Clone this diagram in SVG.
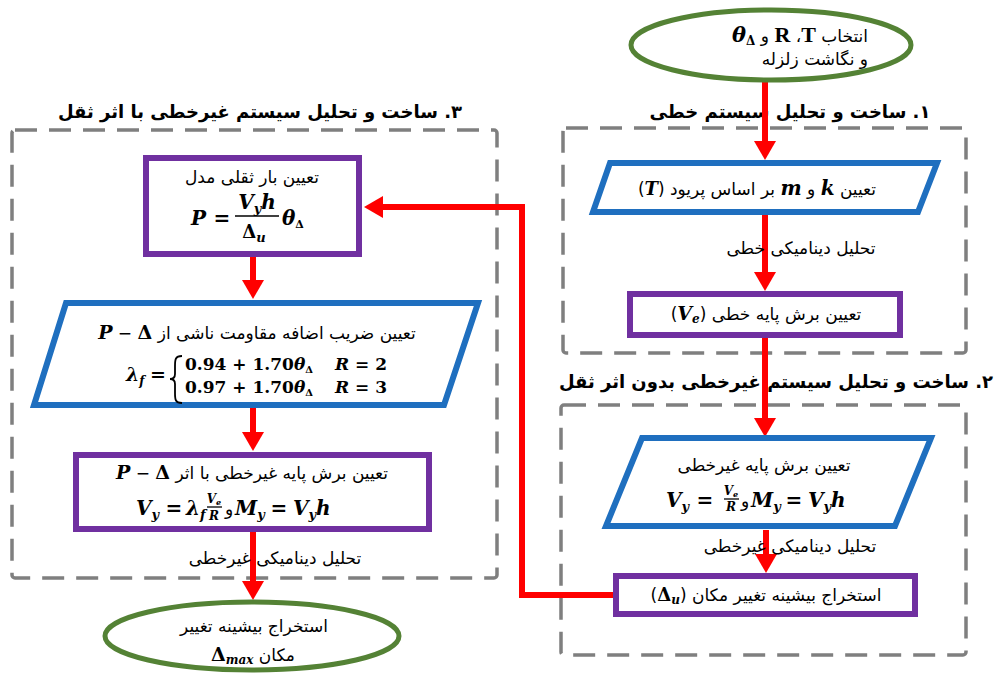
<svg xmlns="http://www.w3.org/2000/svg" width="998" height="679" viewBox="0 0 998 679">
<style>
.fa{font-family:"DejaVu Sans",sans-serif;direction:rtl;fill:#000;font-size:17px}
.h{font-family:"DejaVu Sans",sans-serif;direction:rtl;font-weight:bold;font-size:18px;fill:#000}
.m{font-family:"DejaVu Serif",serif;font-weight:bold;font-style:italic;fill:#000}
.u{font-family:"DejaVu Serif",serif;font-weight:bold;font-style:normal;fill:#000}
.t{font-family:"Liberation Serif",serif;font-weight:bold;font-style:normal}
.dash{fill:none;stroke:#7F7F7F;stroke-width:3.5;stroke-dasharray:22 12}
.ell{fill:#fff;stroke:#548235;stroke-width:5}
.par{fill:#fff;stroke:#1F6FBF;stroke-width:6}
.box{fill:#fff;stroke:#7030A0;stroke-width:6}
.con{fill:none;stroke:#FF0000;stroke-width:6;marker-end:url(#ah)}
.bar{stroke:#000;stroke-width:1.3}
</style>
<defs>
<marker id="ah" markerUnits="userSpaceOnUse" markerWidth="20" markerHeight="24" refX="0" refY="12" orient="auto" overflow="visible">
<path d="M0,1 L19,12 L0,23 z" fill="#FF0000"/>
</marker>
</defs>
<rect width="998" height="679" fill="#fff"/>

<g id="frames">
<rect class="dash" x="563" y="128" width="403" height="225" rx="3"/>
<rect class="dash" x="561" y="405" width="405" height="250" rx="3"/>
<rect class="dash" x="12" y="130" width="485" height="448" rx="3"/>
</g>

<g id="headings">
<text class="h" x="790" y="118" text-anchor="middle">۱. ساخت و تحلیل سیستم خطی</text>
<text class="h" x="776" y="388" text-anchor="middle">۲. ساخت و تحلیل سیستم غیرخطی بدون اثر ثقل</text>
<text class="h" x="260" y="118" text-anchor="middle">۳. ساخت و تحلیل سیستم غیرخطی با اثر ثقل</text>
</g>

<g id="connectors">
<path class="con" d="M765,82 V141"/>
<path class="con" d="M765,215 V272"/>
<path class="con" d="M765,338 V418"/>
<path class="con" d="M766,530 V554"/>
<path class="con" d="M613,595 H522 V207 H383"/>
<path class="con" d="M253,257 V280"/>
<path class="con" d="M253,408 V432"/>
<path class="con" d="M253,532 V581"/>
</g>

<g id="start">
<ellipse class="ell" cx="771" cy="45" rx="140" ry="35"/>
<text class="fa" x="868" y="42" text-anchor="start">انتخاب <tspan class="t" font-size="22">T</tspan>&#x200F;، <tspan class="t" font-size="22">R</tspan> و <tspan class="m" font-size="21">θ</tspan><tspan class="u" font-size="12" baseline-shift="-3">Δ</tspan></text>
<text class="fa" x="868" y="65" text-anchor="start">و نگاشت زلزله</text>
</g>

<g id="linear-km">
<polygon class="par" points="610,163 937,163 918,212 593,212"/>
<text class="fa" x="757" y="195" text-anchor="middle">تعیین <tspan class="m" font-size="20">k</tspan> و <tspan class="m" font-size="20">m</tspan> بر اساس پریود (<tspan class="m" font-size="18">T</tspan>)</text>
</g>

<g id="label-linear">
<text class="fa" x="801" y="254" text-anchor="middle">تحلیل دینامیکی خطی</text>
</g>

<g id="linear-ve">
<rect class="box" x="630" y="294" width="270" height="41"/>
<text class="fa" x="766" y="320" text-anchor="middle">تعیین برش پایه خطی (<tspan class="m" font-size="19">V</tspan><tspan class="m" font-size="12" baseline-shift="-3">e</tspan>)</text>
</g>

<g id="nonlinear-vy">
<polygon class="par" points="642,438 931,438 895,526 606,526"/>
<text class="fa" x="764" y="471" text-anchor="middle">تعیین برش پایه غیرخطی</text>
<text class="m" x="666" y="507" font-size="20">V<tspan font-size="13" baseline-shift="-4">y</tspan></text>
<text class="u" x="705" y="507" font-size="20" text-anchor="middle">=</text>
<text class="m" x="731" y="495" font-size="12" text-anchor="middle">V<tspan font-size="8" baseline-shift="-2">e</tspan></text>
<line class="bar" x1="724" y1="499" x2="739" y2="499"/>
<text class="m" x="731" y="511" font-size="12" text-anchor="middle">R</text>
<text class="fa" x="745" y="507" text-anchor="middle" font-size="16">و</text>
<text class="m" x="751" y="507" font-size="20">M<tspan font-size="13" baseline-shift="-4">y</tspan></text>
<text class="u" x="794" y="507" font-size="20" text-anchor="middle">=</text>
<text class="m" x="808" y="507" font-size="20">V<tspan font-size="13" baseline-shift="-4">y</tspan><tspan>h</tspan></text>
</g>

<g id="label-nonlinear-1">
<text class="fa" x="790" y="552" text-anchor="middle">تحلیل دینامیکی غیرخطی</text>
</g>

<g id="nonlinear-du">
<rect class="box" x="616" y="576" width="299" height="38"/>
<text class="fa" x="766" y="601" text-anchor="middle">استخراج بیشینه تغییر مکان (<tspan class="u" font-size="18">Δ</tspan><tspan class="m" font-size="12" baseline-shift="-3">u</tspan>)</text>
</g>

<g id="gravity-p">
<rect class="box" x="146" y="158" width="213" height="96"/>
<text class="fa" x="252" y="183" text-anchor="middle">تعیین بار ثقلی مدل</text>
<text class="m" x="191" y="225" font-size="20">P</text>
<text class="u" x="222" y="225" font-size="20" text-anchor="middle">=</text>
<text class="m" x="257" y="209" font-size="20" text-anchor="middle">V<tspan font-size="13" baseline-shift="-4">y</tspan>h</text>
<line class="bar" x1="235" y1="216" x2="279" y2="216"/>
<text class="u" x="254" y="238" font-size="18" text-anchor="middle">Δ<tspan class="m" font-size="13" baseline-shift="-4">u</tspan></text>
<text class="m" x="282" y="225" font-size="20">θ<tspan class="u" font-size="11" baseline-shift="-3">Δ</tspan></text>
</g>

<g id="gravity-lambda">
<polygon class="par" points="66,303 478,303 444,405 34,405"/>
<text class="fa" x="257" y="339" text-anchor="middle">تعیین ضریب اضافه مقاومت ناشی از <tspan class="m" font-size="19">P</tspan> − <tspan class="u" font-size="19">Δ</tspan></text>
<text class="m" x="126" y="381" font-size="19">λ<tspan font-size="12" baseline-shift="-4">f</tspan></text>
<text class="u" x="158" y="381" font-size="19" text-anchor="middle">=</text>
<path d="M182,356 C175,356 175,360 175,366 L175,374 C175,378 173,379 170,379 C173,379 175,380 175,384 L175,393 C175,399 175,403 182,403" fill="none" stroke="#000" stroke-width="1.8"/>
<text class="u" x="185" y="370" font-size="17">0.94 + 1.70<tspan class="m">θ</tspan><tspan font-size="10" baseline-shift="-3">Δ</tspan></text>
<text class="m" x="335" y="370" font-size="17">R <tspan class="u">= 2</tspan></text>
<text class="u" x="185" y="393" font-size="17">0.97 + 1.70<tspan class="m">θ</tspan><tspan font-size="10" baseline-shift="-3">Δ</tspan></text>
<text class="m" x="335" y="393" font-size="17">R <tspan class="u">= 3</tspan></text>
</g>

<g id="gravity-vy">
<rect class="box" x="76" y="455" width="353" height="74"/>
<text class="fa" x="252" y="479" text-anchor="middle">تعیین برش پایه غیرخطی با اثر <tspan class="m" font-size="19">P</tspan> − <tspan class="u" font-size="19">Δ</tspan></text>
<text class="m" x="136" y="515" font-size="20">V<tspan font-size="13" baseline-shift="-4">y</tspan></text>
<text class="u" x="174" y="515" font-size="20" text-anchor="middle">=</text>
<text class="m" x="186" y="515" font-size="20">λ<tspan font-size="13" baseline-shift="-4">f</tspan></text>
<text class="m" x="214" y="503" font-size="12" text-anchor="middle">V<tspan font-size="8" baseline-shift="-2">e</tspan></text>
<line class="bar" x1="207" y1="507" x2="222" y2="507"/>
<text class="m" x="214" y="520" font-size="12" text-anchor="middle">R</text>
<text class="fa" x="229" y="515" text-anchor="middle" font-size="16">و</text>
<text class="m" x="235" y="515" font-size="20">M<tspan font-size="13" baseline-shift="-4">y</tspan></text>
<text class="u" x="279" y="515" font-size="20" text-anchor="middle">=</text>
<text class="m" x="293" y="515" font-size="20">V<tspan font-size="13" baseline-shift="-4">y</tspan><tspan>h</tspan></text>
</g>

<g id="label-nonlinear-2">
<text class="fa" x="275" y="564" text-anchor="middle">تحلیل دینامیکی غیرخطی</text>
</g>

<g id="end">
<ellipse class="ell" cx="252" cy="636" rx="147" ry="34"/>
<text class="fa" x="254" y="632" text-anchor="middle">استخراج بیشینه تغییر</text>
<text class="fa" x="253" y="661" text-anchor="middle">مکان <tspan class="u" font-size="19">Δ</tspan><tspan class="m" font-size="12" baseline-shift="-3">max</tspan></text>
</g>
</svg>
